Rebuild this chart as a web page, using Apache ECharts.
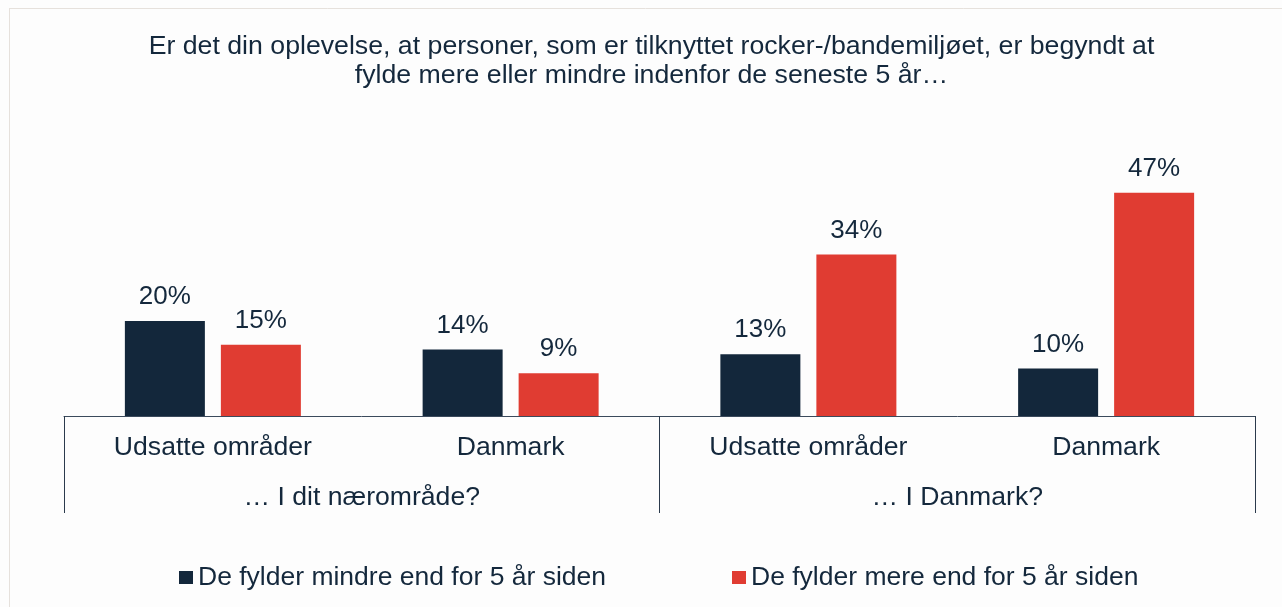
<!DOCTYPE html>
<html>
<head>
<meta charset="utf-8">
<script src="https://cdn.jsdelivr.net/npm/echarts@6/dist/echarts.min.js"></script>
<style>
html,body{margin:0;padding:0;background:#fdfdfd;}
#chart{width:1282px;height:607px;}
</style>
</head>
<body>
<div id="chart"></div>
<script>
var titleText = 'Er det din oplevelse, at personer, som er tilknyttet rocker-/bandemiljøet, er begyndt at\nfylde mere eller mindre indenfor de seneste 5 år…';
var categories = ['Udsatte områder', 'Danmark', 'Udsatte områder', 'Danmark'];
var groups = ['… I dit nærområde?', '… I Danmark?'];
var seriesNames = ['De fylder mindre end for 5 år siden', 'De fylder mere end for 5 år siden'];
var mindre = [20, 14, 13, 10];
var mere = [15, 9, 34, 47];

var textColor = '#14283c';
var font = '"Liberation Sans", Arial, sans-serif';
var chart = echarts.init(document.getElementById('chart'), null, {renderer: 'canvas'});
chart.setOption({
  backgroundColor: '#fdfdfd',
  animation: false,
  graphic: [
    {type: 'line', shape: {x1: 9.5, y1: 9, x2: 9.5, y2: 607}, style: {stroke: '#e6e1dc', lineWidth: 1}},
    {type: 'line', shape: {x1: 9, y1: 8.5, x2: 1282, y2: 8.5}, style: {stroke: '#e6e1dc', lineWidth: 1}},
    {
      type: 'text',
      x: 651.5,
      y: 32,
      style: {
        text: titleText,
        align: 'center',
        verticalAlign: 'top',
        fill: textColor,
        fontFamily: font,
        fontSize: 26.7,
        lineHeight: 29
      }
    }
  ],
  legend: {
    data: seriesNames,
    left: 179,
    top: 564,
    padding: 0,
    itemWidth: 14,
    itemHeight: 13,
    itemGap: 126,
    icon: 'rect',
    textStyle: {color: textColor, fontFamily: font, fontSize: 26.5}
  },
  grid: {left: 64, right: 27, top: 178.5, bottom: 191, containLabel: false},
  xAxis: [
    {
      type: 'category',
      data: categories,
      axisLine: {show: true, lineStyle: {color: '#3b4a5c', width: 1}},
      axisTick: {show: false},
      axisLabel: {color: textColor, fontFamily: font, fontSize: 26.6, margin: 18, lineHeight: 27}
    },
    {
      type: 'category',
      data: groups,
      position: 'bottom',
      axisLine: {show: false},
      axisTick: {show: true, length: 97, lineStyle: {color: '#2b3a4c', width: 1}},
      axisLabel: {color: textColor, fontFamily: font, fontSize: 26.6, margin: 68, lineHeight: 27}
    }
  ],
  yAxis: {
    type: 'value',
    min: 0,
    max: 50,
    show: false,
    splitLine: {show: false}
  },
  series: [
    {
      name: seriesNames[0],
      type: 'bar',
      data: mindre,
      barWidth: 80,
      barGap: '20%',
      itemStyle: {color: '#13273b'},
      label: {show: true, position: 'top', distance: 11, formatter: '{c}%', color: textColor, fontFamily: font, fontSize: 26}
    },
    {
      name: seriesNames[1],
      type: 'bar',
      data: mere,
      barWidth: 80,
      barGap: '20%',
      itemStyle: {color: '#e03c32'},
      label: {show: true, position: 'top', distance: 11, formatter: '{c}%', color: textColor, fontFamily: font, fontSize: 26}
    }
  ]
});
</script>
</body>
</html>
